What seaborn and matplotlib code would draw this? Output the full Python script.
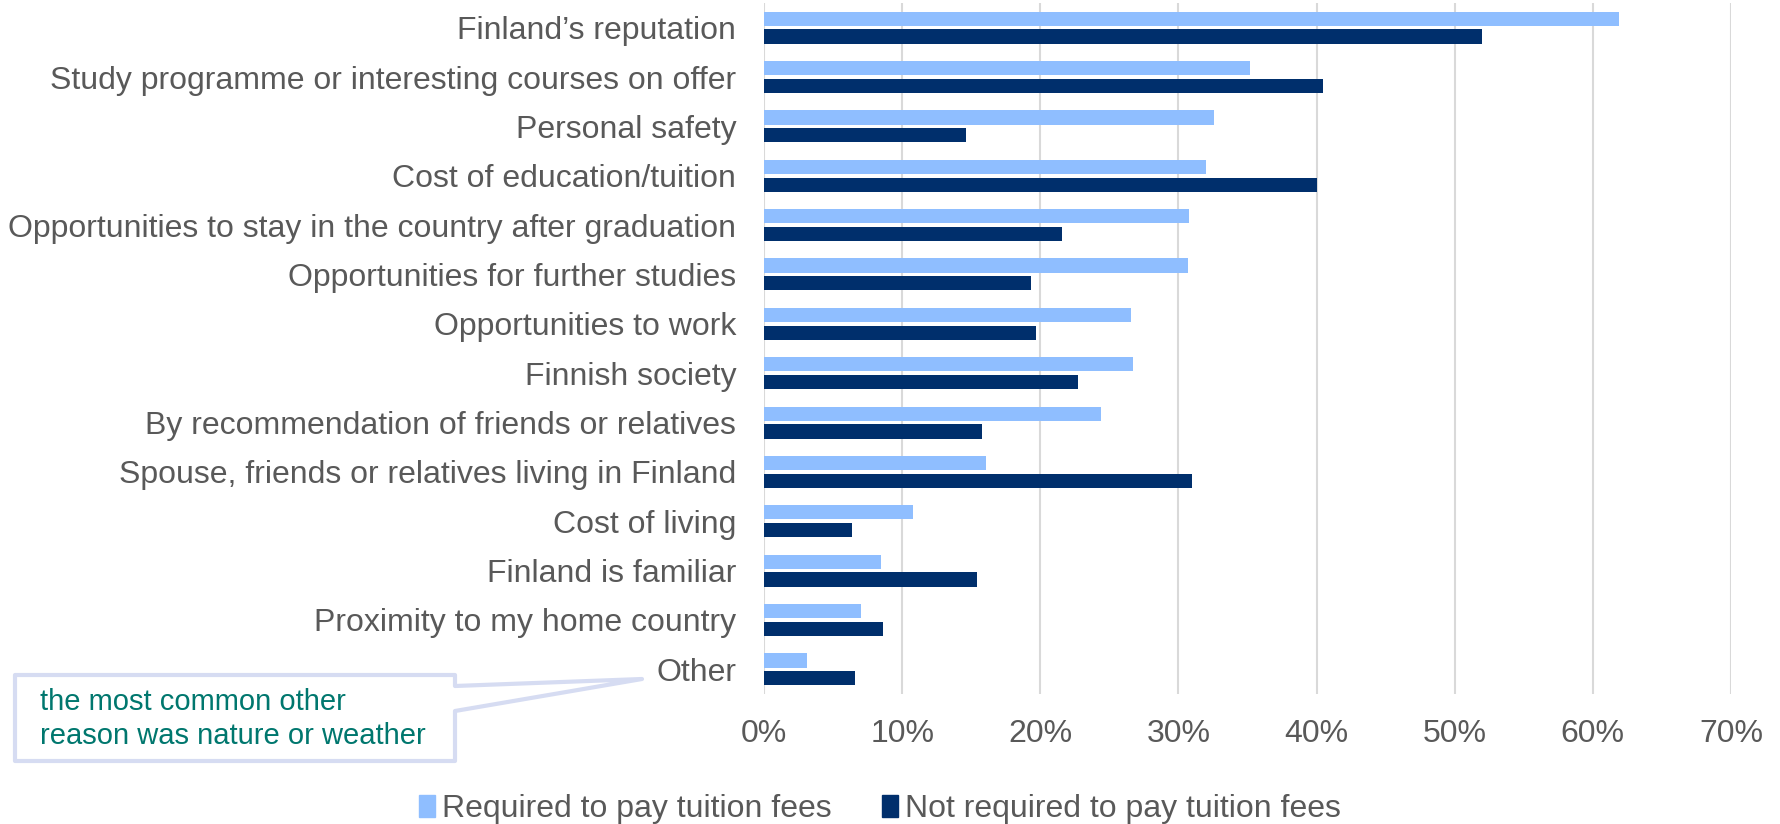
import matplotlib
matplotlib.use("Agg")
import matplotlib.pyplot as plt
from matplotlib.patches import Polygon
from matplotlib.ticker import PercentFormatter
import pandas as pd
import seaborn as sns

reasons = [
    "Finland\u2019s reputation",
    "Study programme or interesting courses on offer",
    "Personal safety",
    "Cost of education/tuition",
    "Opportunities to stay in the country after graduation",
    "Opportunities for further studies",
    "Opportunities to work",
    "Finnish society",
    "By recommendation of friends or relatives",
    "Spouse, friends or relatives living in Finland",
    "Cost of living",
    "Finland is familiar",
    "Proximity to my home country",
    "Other",
]
fee_paying = [61.9, 35.2, 32.6, 32.0, 30.8, 30.7, 26.6, 26.7, 24.4, 16.1, 10.8, 8.5, 7.0, 3.1]
non_fee_paying = [52.0, 40.5, 14.6, 40.0, 21.6, 19.3, 19.7, 22.7, 15.8, 31.0, 6.4, 15.4, 8.6, 6.6]
groups = ["Required to pay tuition fees", "Not required to pay tuition fees"]
colors = ["#8FBEFF", "#002F6C"]

df = pd.DataFrame({
    "reason": reasons * 2,
    "group": [groups[0]] * len(reasons) + [groups[1]] * len(reasons),
    "share": fee_paying + non_fee_paying,
})

sns.set_theme(style="white")
plt.rcParams["font.family"] = ["Liberation Sans", "DejaVu Sans"]

W, H = 1781, 824
fig = plt.figure(figsize=(W / 100, H / 100), dpi=100)
ax = fig.add_axes([764 / W, 1 - 694 / H, (1731 - 764) / W, (694 - 3) / H])

sns.barplot(data=df, y="reason", x="share", hue="group", orient="h",
            palette=colors, saturation=1, width=0.72, gap=0.2, ax=ax,
            legend=False, edgecolor="none")

ax.set_xlim(0, 70)
ax.set_ylim(len(reasons) - 0.5, -0.5)
ax.set_xticks(range(0, 71, 10))
ax.xaxis.set_major_formatter(PercentFormatter(decimals=0))
ax.grid(axis="x", color="#D9D9D9", linewidth=1.5)
ax.set_axisbelow(True)
for s in ax.spines.values():
    s.set_visible(False)
ax.set_xlabel("")
ax.set_ylabel("")
ax.tick_params(axis="y", length=0, pad=20, labelsize=23, labelcolor="#595959")
ax.tick_params(axis="x", length=0, pad=18, labelsize=23, labelcolor="#595959")

# legend
handles = [plt.Rectangle((0, 0), 1, 1, color=c) for c in colors]
fig.legend(handles, groups, loc="center", bbox_to_anchor=(0.494, 0.018), ncol=2,
           frameon=False, fontsize=23, handlelength=0.5, handleheight=0.65,
           handletextpad=0.2, columnspacing=1.6, labelcolor="#595959")

# callout box pointing at "Other"
pts = [(15, 675), (455, 675), (455, 686), (642, 679), (455, 711), (455, 761), (15, 761)]
callout = Polygon([(x / W, 1 - y / H) for x, y in pts], closed=True,
                  transform=fig.transFigure, facecolor="white",
                  edgecolor="#D6DCF2", linewidth=3, joinstyle="round")
fig.patches.append(callout)
fig.text(40 / W, 1 - 719 / H, "the most common other\nreason was nature or weather",
         color="#00776E", fontsize=21, va="center", ha="left", linespacing=1.3)

fig.savefig("out.png", dpi=100)
